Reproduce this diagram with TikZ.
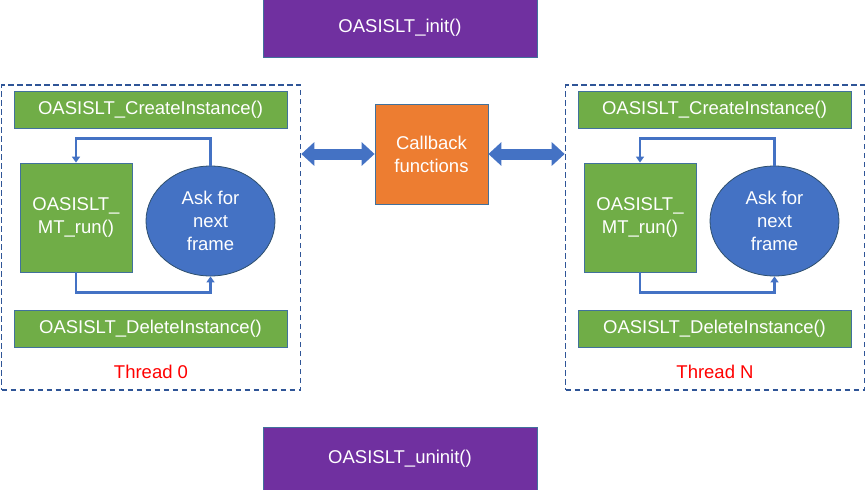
\documentclass[tikz,border=0pt]{standalone}
\usepackage{fontspec}
\setmainfont{Liberation Sans}
\usepackage{tikz}
\usetikzlibrary{shapes.geometric}
\usetikzlibrary{arrows.meta,shapes}
\usetikzlibrary{calc,positioning}
\usepackage{xcolor}
\definecolor{apipurple}{HTML}{7030A0}
\definecolor{apigreen}{HTML}{70AD47}
\definecolor{cborange}{HTML}{ED7D31}
\definecolor{askblue}{HTML}{4472C4}
\definecolor{edgeblue}{HTML}{41719C}
\definecolor{framedash}{HTML}{2F5597}

\begin{document}
\begin{tikzpicture}[x=1pt,y=-1pt,
    box/.style={rectangle, draw=edgeblue, line width=0.8pt, text=white, align=center, inner sep=0pt,
        font=\fontsize{18.5}{23}\selectfont},
    api/.style={box, fill=apipurple, minimum width=274pt},
    func/.style={box, fill=apigreen, minimum width=273pt, minimum height=37pt},
    run/.style={box, fill=apigreen, minimum width=112pt, minimum height=109pt},
    ask/.style={ellipse, draw=edgeblue!70!black, line width=0.8pt, fill=askblue, text=white, align=center,
        inner sep=0pt, minimum width=129pt, minimum height=110pt, font=\fontsize{18.5}{23}\selectfont},
    thread/.style={rectangle, draw=framedash, line width=1.6pt, dash pattern=on 5.5pt off 3.5pt,
        minimum width=299pt, minimum height=305pt},
    flow/.style={draw=askblue, line width=2.8pt, -{Triangle[width=8pt,length=6pt]}},
    link/.style={draw=askblue, line width=11pt,
        {Triangle[width=23pt,length=13pt]}-{Triangle[width=23pt,length=13pt]}}]

    \useasboundingbox (0,0) rectangle (865,490);

    \node[api, minimum height=58pt] (init) at (400,28) {OASISLT\_init()};
    \node[api, minimum height=63pt] (uninit) at (400,458.5) {OASISLT\_uninit()};
    \node[box, fill=cborange, minimum width=113pt, minimum height=100pt] (cb) at (431.5,154) {Callback\\functions};

    \foreach \t/ \dx in {0/0, N/564}{
        \node[thread] (frame\t) at (\dx+151,237.5) {};
        \node[func] (create\t) at (\dx+150.5,109.5) {OASISLT\_CreateInstance()};
        \node[run] (run\t) at (\dx+76,217.5) {OASISLT\_\\MT\_run()};
        \node[ask] (ask\t) at (\dx+210.5,221) {Ask for\\next\\frame};
        \node[func] (delete\t) at (\dx+150.5,328.5) {OASISLT\_DeleteInstance()};
        \node[text=red, font=\fontsize{18.5}{23}\selectfont] (label\t) at (\dx+151,372) {Thread \t};

        \draw[flow] (ask\t.north) -- ++(0,-27) -| (run\t.north);
        \draw[flow] (run\t.south) -- ++(0,20) -| (ask\t.south);
    }

    \draw[link] (frame0.east |- cb.west) -- (cb.west);
    \draw[link] (cb.east) -- (frameN.west |- cb.east);
\end{tikzpicture}
\end{document}
